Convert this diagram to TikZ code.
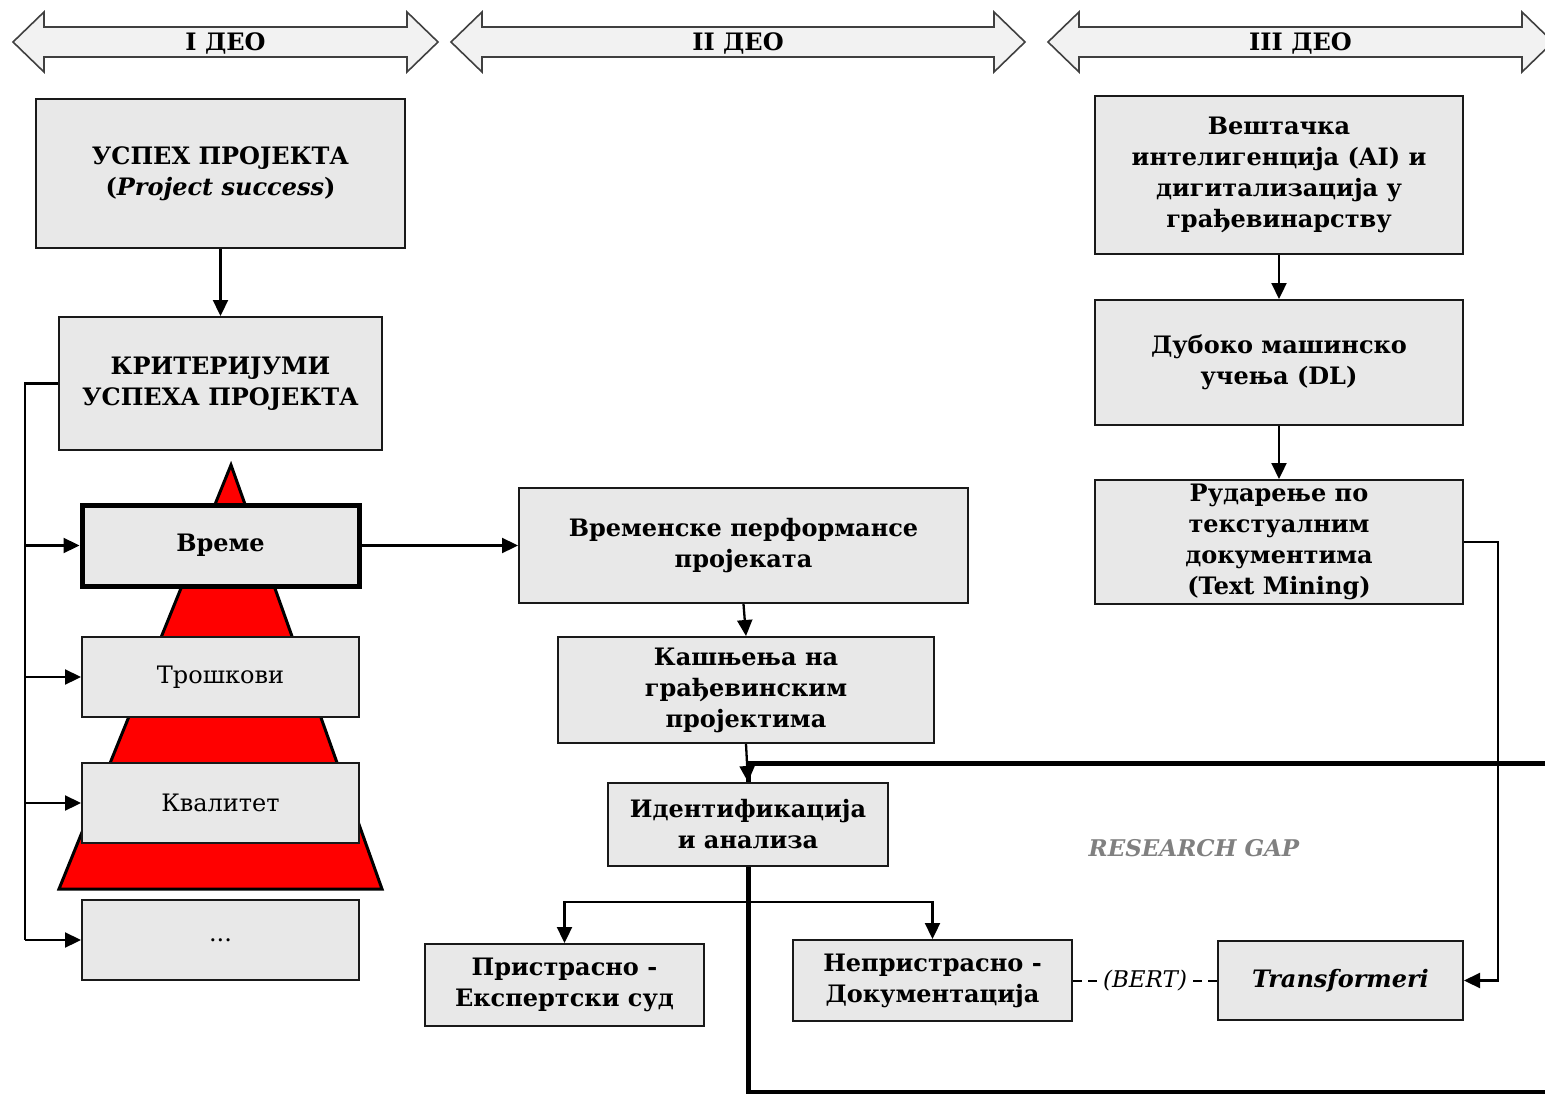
\documentclass[tikz,border=0pt]{standalone}
\usepackage{fontspec}
\setmainfont{DejaVu Serif}
\usetikzlibrary{arrows.meta}
\definecolor{boxgray}{HTML}{E8E8E8}
\definecolor{bandgray}{HTML}{F2F2F2}
\definecolor{bandline}{HTML}{404040}
\definecolor{gaptext}{HTML}{808080}
\definecolor{pyramidred}{HTML}{FF0000}
\newcommand\partband[4]{%
  % double-headed band: #1 left tip x, #2 right tip x, #3 name, #4 label
  \draw[band] (#1,42) -- ++(31,-30) -- ++(0,15) -- (#2-31,27) -- ++(0,-15)
    -- (#2,42) -- (#2-31,72) -- ++(0,-15) -- (#1+31,57) -- ++(0,15) -- cycle;
  \node[bandtext] (#3) at ({(#1+#2)/2},43) {#4};
}
\begin{document}
\begin{tikzpicture}[x=1pt,y=-1pt,
  txt/.style={font=\fontsize{24}{31}\selectfont\bfseries},
  box/.style={draw=black!90, fill=boxgray, line width=2pt, inner sep=0pt, align=center, txt},
  plainbox/.style={box, font=\fontsize{24}{31}\selectfont},
  band/.style={draw=bandline, fill=bandgray, line width=1.6pt, line join=miter},
  bandtext/.style={txt, inner sep=0pt},
  conn/.style={draw=black, line width=2.3pt},
  arr/.style={conn, -{Triangle[length=16pt,width=15pt]}},
  gapline/.style={draw=black, line width=5pt},
  dashlink/.style={draw=black, line width=2pt, dash pattern=on 9pt off 6pt},
]
\useasboundingbox (0,0) rectangle (1545,1094);
\clip (0,0) rectangle (1545,1094);

% part bands
\partband{13}{438}{p1}{I ДЕО}
\partband{451}{1025}{p2}{II ДЕО}
\partband{1048}{1553}{p3}{III ДЕО}

% research gap frame
\coordinate (gtl) at (748,763);
\coordinate (gbl) at (748,1092);
\draw[gapline] (1560,763) -- (gtl) -- (gbl) -- (1560,1092);

% red pyramid behind the criteria
\draw[fill=pyramidred, draw=black, line width=3pt, line join=miter]
  (231,465) -- (382,889) -- (59,889) -- cycle;

% part I
\node[box, minimum width=369, minimum height=149] (succ) at (220.5,173.5)
  {УСПЕХ ПРОЈЕКТА\\(\textit{Project success})};
\node[box, minimum width=323, minimum height=133] (crit) at (220.5,383.5)
  {КРИТЕРИЈУМИ\\УСПЕХА ПРОЈЕКТА};
\node[box, line width=5pt, draw=black, minimum width=277, minimum height=81] (vreme) at (220.5,545.5) {Време};
\node[plainbox, minimum width=277, minimum height=80] (tros) at (220.5,677) {Трошкови};
\node[plainbox, minimum width=277, minimum height=80] (kval) at (220.5,803) {Квалитет};
\node[plainbox, minimum width=277, minimum height=80] (dots) at (220.5,940) {...};

\draw[arr] (succ.south) -- (crit.north);
\coordinate (bus) at (25,0);
\draw[conn] (crit.west) -- (crit.west -| bus) -- (dots.west -| bus);
\draw[arr] (vreme.west -| bus) -- (vreme.west);
\draw[arr] (tros.west -| bus) -- (tros.west);
\draw[arr] (kval.west -| bus) -- (kval.west);
\draw[arr] (dots.west -| bus) -- (dots.west);

% part II
\node[box, minimum width=449, minimum height=115] (perf) at (743.5,545.5)
  {Временске перформансе\\пројеката};
\node[box, minimum width=376, minimum height=106] (kas) at (746,690)
  {Кашњења на\\грађевинским\\пројектима};
\node[box, minimum width=280, minimum height=83] (ident) at (748,824.5)
  {Идентификација\\и анализа};
\node[box, minimum width=279, minimum height=82] (pris) at (564.5,985)
  {Пристрасно -\\Експертски суд};
\node[box, minimum width=279, minimum height=81] (nepris) at (932.5,980.5)
  {Непристрасно -\\Документација};

\draw[arr] (vreme.east) -- (perf.west);
\draw[arr] (perf.south) -- (kas.north);
\draw[arr] (kas.south) -- (ident.north);
\draw[conn] (ident.south) -- ++(0,35) coordinate (split);
\draw[arr] (split) -| (pris.north);
\draw[arr] (split) -| (nepris.north);

% part III
\node[box, minimum width=368, minimum height=158] (ai) at (1279,175)
  {Вештачка\\интелигенција (AI) и\\дигитализација у\\грађевинарству};
\node[box, minimum width=368, minimum height=125] (dl) at (1279,362.5)
  {Дубоко машинско\\учења (DL)};
\node[box, minimum width=368, minimum height=124] (tm) at (1279,542)
  {Рударење по\\текстуалним\\документима\\(Text Mining)};
\node[box, minimum width=245, minimum height=79] (trans) at (1340.5,980.5)
  {\textit{Transformeri}};

\draw[arr] (ai.south) -- (dl.north);
\draw[arr] (dl.south) -- (tm.north);
\draw[arr] (tm.east) -- ++(34,0) |- (trans.east);
\draw[dashlink] (nepris.east) -- node[fill=white, inner sep=1pt,
  font=\fontsize{23}{26}\selectfont\itshape] {(BERT)} (trans.west);

\node[font=\fontsize{23}{26}\selectfont\bfseries\itshape, text=gaptext] (gap) at (1194,848) {RESEARCH GAP};
\end{tikzpicture}
\end{document}
